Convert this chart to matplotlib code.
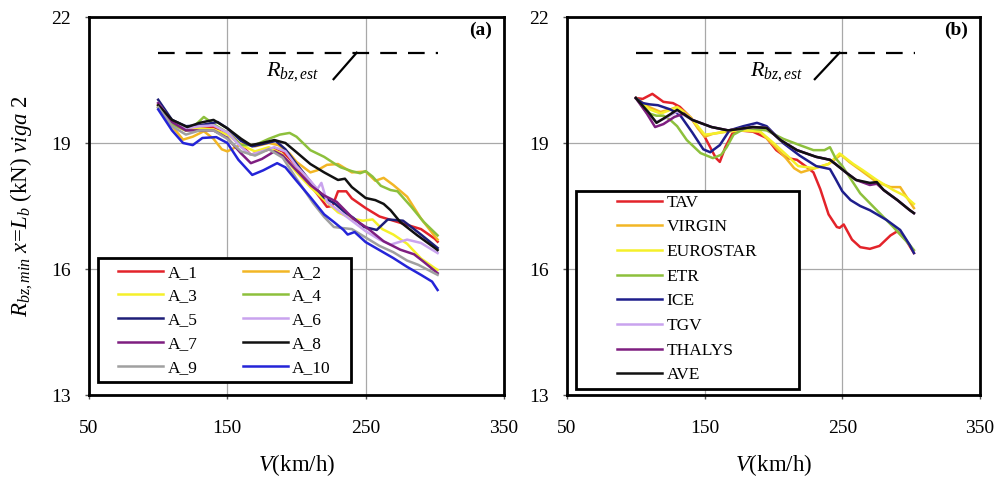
import matplotlib
matplotlib.use("Agg")
import matplotlib.pyplot as plt
from matplotlib.patches import Rectangle

plt.rcParams['font.family'] = ['Liberation Serif', 'DejaVu Serif']
plt.rcParams['mathtext.fontset'] = 'custom'
plt.rcParams['mathtext.rm'] = 'Liberation Serif'
plt.rcParams['mathtext.it'] = 'Liberation Serif:italic'
plt.rcParams['mathtext.bf'] = 'Liberation Serif:bold'

# ---------------- data: panel (a) ----------------
a_labels = ["A_1", "A_2", "A_3", "A_4", "A_5", "A_6", "A_7", "A_8", "A_9", "A_10"]
a_colors = ["#E3232A", "#F2B625", "#F5F02A", "#8DC03C", "#1E1E78",
            "#C9A3EE", "#7E1E80", "#111111", "#A0A0A0", "#2424D8"]

A1_v = [100,110,120,130,140,150,160,167,175,184,190,200,210,217,222,226,230,236,240,250,260,270,280,290,300,302]
A1_r = [19.9,19.45,19.3,19.35,19.38,19.25,18.95,18.72,18.8,18.88,18.8,18.45,18.0,17.7,17.48,17.5,17.85,17.85,17.68,17.45,17.25,17.15,17.05,16.95,16.72,16.65]
A2_v = [100,110,118,125,133,140,146,150,156,162,170,180,187,195,200,210,215,222,230,240,250,257,263,270,280,290,300,302]
A2_r = [19.85,19.4,19.08,19.15,19.28,19.1,18.85,18.8,18.9,19.0,18.92,19.0,18.95,18.75,18.55,18.3,18.35,18.48,18.5,18.3,18.32,18.1,18.17,18.0,17.72,17.2,16.78,16.7]
A3_v = [100,110,120,130,140,150,160,170,180,190,200,210,220,230,240,248,255,262,270,280,290,300,302]
A3_r = [19.9,19.45,19.3,19.35,19.32,19.2,18.95,18.8,18.9,18.72,18.3,17.95,17.65,17.35,17.2,17.15,17.18,16.95,16.82,16.6,16.25,16.02,15.98]
A4_v = [100,110,120,127,133,140,150,160,170,180,188,195,200,210,220,227,232,240,246,250,255,261,268,273,283,292,302]
A4_r = [19.85,19.45,19.3,19.43,19.62,19.45,19.25,18.95,18.95,19.1,19.2,19.24,19.15,18.83,18.67,18.52,18.42,18.33,18.28,18.33,18.2,17.98,17.88,17.85,17.48,17.12,16.8]
A5_v = [100,110,120,130,143,150,160,168,176,185,192,200,212,220,228,235,241,249,258,266,277,283,290,302]
A5_r = [20.03,19.55,19.4,19.42,19.5,19.35,19.05,18.92,18.98,19.05,18.85,18.5,18.0,17.7,17.55,17.35,17.22,17.0,16.93,17.18,17.15,17.0,16.82,16.5]
A6_v = [100,110,120,130,140,150,160,167,175,184,192,200,210,215,218,222,230,240,250,260,268,275,280,290,302]
A6_r = [19.95,19.5,19.35,19.4,19.42,19.25,18.9,18.72,18.8,18.9,18.8,18.45,18.1,17.9,18.05,17.6,17.4,17.15,16.9,16.7,16.58,16.65,16.7,16.62,16.38]
A7_v = [100,110,120,130,140,150,160,167,175,184,190,200,210,220,229,241,251,263,275,285,292,302]
A7_r = [19.95,19.5,19.3,19.3,19.3,19.12,18.75,18.52,18.62,18.8,18.7,18.35,18.0,17.75,17.6,17.2,16.98,16.66,16.46,16.35,16.17,15.9]
A8_v = [100,110,121,130,140,150,160,167,175,184,192,200,210,220,230,235,240,250,257,263,268,275,287,300,302]
A8_r = [19.9,19.55,19.38,19.48,19.55,19.35,19.1,18.95,19.0,19.07,19.0,18.78,18.5,18.3,18.12,18.15,17.95,17.69,17.64,17.55,17.4,17.12,16.81,16.5,16.45]
A9_v = [100,110,120,130,140,150,160,170,180,190,200,212,220,227,232,240,250,260,270,280,288,302]
A9_r = [19.85,19.4,19.2,19.3,19.3,19.1,18.8,18.7,18.85,18.65,18.15,17.57,17.24,17.0,16.98,16.95,16.75,16.55,16.4,16.2,16.1,15.86]
A10_v = [100,110,118,125,132,142,150,158,168,176,186,192,200,210,220,227,234,237,242,250,260,270,280,290,298,302]
A10_r = [19.8,19.3,19.0,18.95,19.12,19.14,19.0,18.6,18.24,18.35,18.52,18.42,18.1,17.71,17.3,17.12,16.93,16.82,16.88,16.64,16.45,16.26,16.05,15.86,15.7,15.5]

a_series = [(A1_v, A1_r), (A2_v, A2_r), (A3_v, A3_r), (A4_v, A4_r), (A5_v, A5_r),
            (A6_v, A6_r), (A7_v, A7_r), (A8_v, A8_r), (A9_v, A9_r), (A10_v, A10_r)]

# ---------------- data: panel (b) ----------------
b_labels = ["TAV", "VIRGIN", "EUROSTAR", "ETR", "ICE", "TGV", "THALYS", "AVE"]
b_colors = ["#E3232A", "#F2B625", "#F5F02A", "#8DC03C", "#1E1E8C",
            "#C9A3EE", "#7E1E80", "#111111"]

TAV_v = [100,105,112,120,127,132,140,150,158,161,165,170,175,185,195,202,210,217,224,229,234,240,246,248,251,257,263,270,277,285,290,296,302]
TAV_r = [20.07,20.05,20.17,19.98,19.95,19.86,19.6,19.15,18.65,18.55,18.9,19.22,19.3,19.27,19.12,18.83,18.64,18.6,18.43,18.3,17.9,17.3,17.0,16.98,17.06,16.7,16.52,16.48,16.55,16.8,16.9,16.7,16.38]
VIRGIN_v = [100,110,118,125,130,135,140,145,150,156,166,176,190,200,209,215,220,230,240,249,255,263,275,285,292,299,302]
VIRGIN_r = [20.07,19.85,19.74,19.8,19.86,19.75,19.6,19.35,19.15,19.22,19.27,19.3,19.27,18.95,18.64,18.4,18.3,18.4,18.5,18.72,18.55,18.36,18.07,17.95,17.95,17.6,17.45]
EURO_v = [100,110,118,130,140,150,156,166,180,190,200,210,218,230,240,248,258,265,275,287,295,302]
EURO_r = [20.07,19.8,19.7,19.85,19.6,19.2,19.22,19.28,19.3,19.28,19.0,18.7,18.45,18.4,18.5,18.75,18.5,18.35,18.12,17.88,17.75,17.55]
ETR_v = [100,108,115,120,125,130,137,147,156,162,166,171,180,195,207,219,229,237,241,245,250,263,275,287,299,302]
ETR_r = [20.07,19.72,19.65,19.65,19.55,19.4,19.07,18.76,18.64,18.72,18.9,19.2,19.36,19.3,19.1,18.95,18.83,18.83,18.9,18.64,18.45,17.8,17.4,17.0,16.57,16.45]
ICE_v = [100,105,110,116,125,132,141,149,154,161,168,178,188,195,207,219,231,241,245,250,256,263,270,282,292,299,302]
ICE_r = [20.07,19.95,19.92,19.9,19.8,19.67,19.25,18.85,18.78,18.95,19.3,19.4,19.48,19.4,19.0,18.7,18.45,18.38,18.15,17.85,17.64,17.5,17.4,17.17,16.93,16.57,16.38]
TGV_v = [100,108,115,122,130,141,155,167,185,195,205,217,231,241,245,253,260,270,275,280,290,299,302]
TGV_r = [20.07,19.72,19.5,19.6,19.75,19.55,19.38,19.3,19.38,19.36,19.07,18.83,18.67,18.6,18.5,18.29,18.12,18.03,18.05,17.88,17.64,17.4,17.33]
THALYS_v = [100,108,114,120,128,135,141,155,167,185,195,205,217,231,241,245,253,260,270,275,280,290,299,302]
THALYS_r = [20.07,19.7,19.38,19.45,19.62,19.7,19.55,19.38,19.3,19.38,19.36,19.07,18.83,18.67,18.6,18.5,18.29,18.12,18.0,18.03,17.88,17.64,17.4,17.33]
AVE_v = [100,109,115,121,130,141,155,167,185,195,205,217,231,241,245,253,260,270,275,280,290,299,302]
AVE_r = [20.07,19.74,19.48,19.6,19.79,19.55,19.38,19.3,19.38,19.36,19.07,18.83,18.67,18.6,18.5,18.29,18.12,18.05,18.07,17.88,17.64,17.4,17.33]

b_series = [(TAV_v, TAV_r), (VIRGIN_v, VIRGIN_r), (EURO_v, EURO_r), (ETR_v, ETR_r),
            (ICE_v, ICE_r), (TGV_v, TGV_r), (THALYS_v, THALYS_r), (AVE_v, AVE_r)]

# reference level and annotation
est_v = [100, 302.5]
est_r = [21.15, 21.15]
est_label = r'$R_{bz,est}$'
a_leader_v = [226.8, 243.5]
a_leader_r = [20.52, 21.15]
b_leader_v = [230.0, 248.0]
b_leader_r = [20.52, 21.15]
a_text_pos = (197, 20.69)
b_text_pos = (202.5, 20.69)

x_ticks = [50, 150, 250, 350]
y_ticks = [13, 16, 19, 22]

fig = plt.figure(figsize=(9.98, 4.8), dpi=100)
ax_a = fig.add_axes([0.08918, 0.17708, 0.41583, 0.7875])
ax_b = fig.add_axes([0.56814, 0.17708, 0.41383, 0.7875])

def style(ax, tag, leader_v, leader_r, text_pos):
    ax.set_xlim(50, 350)
    ax.set_ylim(13, 22)
    ax.set_xticks(x_ticks)
    ax.set_yticks(y_ticks)
    ax.grid(True, color="#A8A8A8", linewidth=0.9)
    ax.set_axisbelow(True)
    for s in ax.spines.values():
        s.set_linewidth(2.0)
        s.set_color("black")
    ax.tick_params(axis='both', labelsize=14, direction='out', length=3, width=1.0,
                   color='#555555')
    ax.tick_params(axis='x', pad=15)
    ax.tick_params(axis='y', pad=10)
    ax.plot(est_v, est_r, color='black', linewidth=1.6, linestyle=(0, (7.5, 5.0)))
    ax.plot(leader_v, leader_r, color='black', linewidth=1.6)
    ax.text(text_pos[0], text_pos[1], est_label, fontsize=16, ha='center', va='center')
    ax.text(0.97, 0.966, tag, transform=ax.transAxes, fontsize=14, fontweight='bold',
            ha='right', va='center')

a_handles = {}
for (v, r), lab, c in zip(a_series, a_labels, a_colors):
    a_handles[lab], = ax_a.plot(v, r, color=c, linewidth=1.8, label=lab)
for (v, r), lab, c in zip(b_series, b_labels, b_colors):
    ax_b.plot(v, r, color=c, linewidth=1.8, label=lab)

style(ax_a, '(a)', a_leader_v, a_leader_r, a_text_pos)
style(ax_b, '(b)', b_leader_v, b_leader_r, b_text_pos)

# legend frames drawn as separate rectangles
ax_a.add_patch(Rectangle((0.0217, 0.034), 0.6096, 0.328, transform=ax_a.transAxes,
                         facecolor='white', edgecolor='black', linewidth=2.0, zorder=4))
ax_b.add_patch(Rectangle((0.022, 0.016), 0.540, 0.524, transform=ax_b.transAxes,
                         facecolor='white', edgecolor='black', linewidth=2.0, zorder=4))

# row-wise order in a two-column legend
order = a_labels[0::2] + a_labels[1::2]
leg_a = ax_a.legend([a_handles[k] for k in order], order,
                    loc='upper left', bbox_to_anchor=(0.0699, 0.345), ncol=2,
                    frameon=False, fontsize=12.5, borderpad=0, borderaxespad=0,
                    handlelength=2.6, handletextpad=0.25, columnspacing=2.6,
                    labelspacing=0.44)
leg_a.set_zorder(5)
leg_b = ax_b.legend(loc='upper left', bbox_to_anchor=(0.121, 0.530), ncol=1,
                    frameon=False, fontsize=12.5, borderpad=0, borderaxespad=0,
                    handlelength=2.6, handletextpad=0.25, labelspacing=0.49)
leg_b.set_zorder(5)

fig.text(22/998, 0.571, r'$R_{bz,min}\ x\!=\!L_b$ (kN) $viga$ 2', rotation=90,
         fontsize=16.5, ha='center', va='center')
fig.text(296.5/998, 0.031, r'$V$(km/h)', fontsize=16.5, ha='center', va='center')
fig.text(773.5/998, 0.031, r'$V$(km/h)', fontsize=16.5, ha='center', va='center')

fig.savefig('out.png', dpi=100, facecolor='white')
